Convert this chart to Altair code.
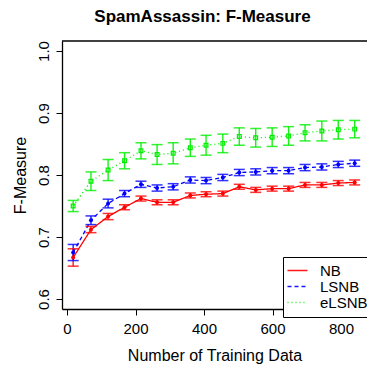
import altair as alt
import pandas as pd

# ---- data ----
train_sizes = [18, 70, 120, 168, 216, 263, 310, 360, 406, 455, 503, 551, 599, 647, 695, 744, 792, 840]

nb = [0.667, 0.712, 0.733, 0.748, 0.762, 0.756, 0.756, 0.767, 0.769, 0.770,
      0.781, 0.776, 0.778, 0.778, 0.784, 0.784, 0.787, 0.788]
nb_err = [0.014, 0.005, 0.005, 0.004, 0.004, 0.004, 0.004, 0.004, 0.004, 0.004,
          0.004, 0.004, 0.004, 0.004, 0.004, 0.004, 0.004, 0.004]

lsnb = [0.675, 0.727, 0.754, 0.770, 0.785, 0.779, 0.781, 0.792, 0.791, 0.796,
        0.804, 0.805, 0.807, 0.807, 0.812, 0.813, 0.817, 0.819]
lsnb_err = [0.013, 0.007, 0.007, 0.005, 0.005, 0.005, 0.005, 0.005, 0.005, 0.005,
            0.005, 0.005, 0.005, 0.005, 0.005, 0.005, 0.005, 0.005]

elsnb = [0.750, 0.790, 0.808, 0.823, 0.839, 0.833, 0.835, 0.844, 0.848, 0.851,
         0.862, 0.860, 0.861, 0.863, 0.868, 0.871, 0.873, 0.874]
elsnb_err = [0.009, 0.015, 0.017, 0.013, 0.013, 0.016, 0.017, 0.014, 0.016, 0.015,
             0.014, 0.015, 0.015, 0.015, 0.013, 0.016, 0.015, 0.014]

series_names = ["NB", "LSNB", "eLSNB"]
series_colors = ["#ff0000", "#0000ff", "#00ee00"]
series_dash = [[1, 0], [4, 3], [1, 3]]
x_ticks = [0, 200, 400, 600, 800]
y_ticks = [0.6, 0.7, 0.8, 0.9, 1.0]

rows = []
for name, vals, errs in [("NB", nb, nb_err), ("LSNB", lsnb, lsnb_err), ("eLSNB", elsnb, elsnb_err)]:
    for xv, v, e in zip(train_sizes, vals, errs):
        rows.append({"series": name, "x": xv, "y": v, "lo": v - e, "hi": v + e})
df = pd.DataFrame(rows)

W, H = 305, 268
FONT = "Liberation Sans"

xscale = alt.Scale(domain=[-14.6, 875.9], nice=False, zero=False)
yscale = alt.Scale(domain=[0.5839, 1.0161], nice=False, zero=False)
cscale = alt.Scale(domain=series_names, range=series_colors)
dscale = alt.Scale(domain=series_names, range=series_dash)

xenc = alt.X("x:Q", scale=xscale,
             axis=alt.Axis(values=x_ticks, title="Number of Training Data", format="d"))
yenc = alt.Y("y:Q", scale=yscale,
             axis=alt.Axis(values=y_ticks, title="F-Measure", format=".1f"))

LEG_SYMBOL = "M-2,0H2"

base = alt.Chart(df)

lines = base.mark_line(strokeWidth=1.3).encode(
    x=xenc, y=yenc,
    color=alt.Color("series:N", scale=cscale, sort=series_names,
                    legend=alt.Legend(title=None, symbolType=LEG_SYMBOL)),
    strokeDash=alt.StrokeDash("series:N", scale=dscale, sort=series_names,
                              legend=alt.Legend(title=None, symbolType=LEG_SYMBOL)),
)

err_rules = base.mark_rule(strokeWidth=1.4, opacity=0.9).encode(
    x="x:Q", y="lo:Q", y2="hi:Q",
    color=alt.Color("series:N", scale=cscale, sort=series_names),
)
cap_lo = base.mark_tick(orient="horizontal", size=11, thickness=1.5, opacity=0.8).encode(
    x="x:Q", y="lo:Q", color=alt.Color("series:N", scale=cscale, sort=series_names),
)
cap_hi = base.mark_tick(orient="horizontal", size=11, thickness=1.5, opacity=0.8).encode(
    x="x:Q", y="hi:Q", color=alt.Color("series:N", scale=cscale, sort=series_names),
)

pts_filled = base.transform_filter(alt.datum.series != "eLSNB").mark_point(
    shape="circle", filled=True, size=16, opacity=1).encode(
    x="x:Q", y="y:Q", color=alt.Color("series:N", scale=cscale, sort=series_names),
)
pts_open = base.transform_filter(alt.datum.series == "eLSNB").mark_point(
    shape="square", filled=False, size=14, strokeWidth=1.2, opacity=1).encode(
    x="x:Q", y="y:Q", color=alt.Color("series:N", scale=cscale, sort=series_names),
)

frame_top = alt.Chart(pd.DataFrame({"a": [0]})).mark_rule(color="black", strokeWidth=1.3).encode(
    x=alt.value(0), x2=alt.value(W), y=alt.value(0)
)

chart = alt.layer(lines, err_rules, cap_lo, cap_hi, pts_filled, pts_open, frame_top).properties(
    width=W, height=H,
    title=alt.TitleParams("SpamAssassin: F-Measure", fontSize=17, font=FONT,
                          fontWeight="bold", anchor="middle", dx=-12, offset=14, color="black"),
    autosize=alt.AutoSizeParams(type="none"),
    padding={"left": 62, "top": 41, "right": 0, "bottom": 60},
).configure_view(
    stroke=None
).configure_axis(
    grid=False, domainColor="black", domainWidth=1.3, tickColor="black", tickWidth=1,
    tickSize=6, labelFont=FONT, labelFontSize=15, labelColor="black",
    titleFont=FONT, titleFontSize=16, titleFontWeight="normal", titleColor="black",
).configure_axisX(
    labelPadding=6, titlePadding=11,
).configure_axisY(
    labelAngle=270, labelPadding=5, titlePadding=8,
).configure_legend(
    orient="none", legendX=221, legendY=216,
    strokeColor="black", fillColor="white", padding=6, cornerRadius=0,
    labelFont=FONT, labelFontSize=15, labelColor="black", labelOffset=15,
    symbolSize=100, symbolStrokeWidth=1.5, rowPadding=-2.3, symbolOffset=1,
)

chart.save("out.html", embed_options={"renderer": "svg", "actions": False})
